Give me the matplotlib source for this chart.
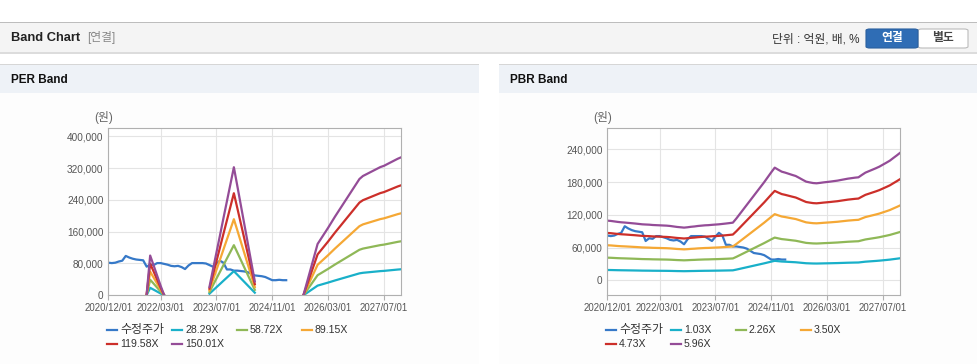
#Imports matplotlib, numpy and pandas to draw the band charts
import matplotlib.pyplot as plt
from matplotlib.patches import Rectangle, FancyBboxPatch
from matplotlib.lines import Line2D
from matplotlib.ticker import FuncFormatter
import numpy as np
import pandas as pd

plt.rcParams['font.family'] = ['Liberation Sans', 'Noto Sans CJK KR']

W, H = 978, 364

#Monthly categories of the x axis and the dates that carry a label
months = list(pd.date_range('2020-12-01', periods=85, freq='MS').strftime('%Y/%m/%d'))
tick_labels = ['2020/12/01', '2022/03/01', '2023/07/01', '2024/11/01', '2026/03/01', '2027/07/01']

#Adjusted stock price (수정주가), 2020/12 .. 2025/03
price = [82000, 81000, 82000, 85000, 87000, 99000, 95000, 92000, 90000, 89000,
         88000, 72000, 77000, 76000, 81000, 81000, 79000, 77000, 74000, 73000,
         74000, 71000, 66000, 75000, 81000, 81000, 81000, 81000, 80000, 76000,
         72000, 80000, 87000, 82000, 65000, 65000, 62000, 62000, 61000, 60000,
         58000, 54000, 50000, 49000, 48000, 46000, 42000, 38000, 38000, 39000,
         38000, 38000]

#EPS per month (None where the PER band has no value)
eps = [None] * 11 + [20, 667, 500, 330, 160, 5] + [None] * 12 + \
      [140, 430, 715, 1000, 1290, 1575, 1860, 2147, 1830, 1510, 1190, 870, 550, 234] + \
      [None] * 13 + \
      [15, 226, 437, 648, 860, 950, 1040, 1130, 1225, 1320, 1410, 1500, 1590, 1680,
       1770, 1860, 1950, 2000, 2030, 2060, 2090, 2120, 2150, 2170, 2200, 2230, 2260,
       2290, 2315]

#BPS per month
bps = [18340, 18250, 18100, 17950, 17830, 17750, 17650, 17550, 17450, 17330,
       17210, 17150, 17100, 17000, 16950, 16900, 16850, 16800, 16700, 16550,
       16400, 16300, 16190, 16300, 16450, 16550, 16700, 16800, 16900, 16950,
       17050, 17130, 17210, 17330, 17450, 17580, 17720, 19000, 20400, 21800,
       23200, 24600, 26000, 27400, 28800, 30200, 31700, 33200, 34630, 34000,
       33400, 33100, 32750, 32400, 32070, 31500, 30900, 30330, 30100, 29900,
       29820, 29950, 30100, 30220, 30350, 30500, 30640, 30850, 31050, 31250,
       31400, 31550, 31660, 32400, 33100, 33550, 34000, 34450, 34940, 35550,
       36150, 36780, 37600, 38400, 39240]

per_mult = [28.29, 58.72, 89.15, 119.58, 150.01]
per_names = ['28.29X', '58.72X', '89.15X', '119.58X', '150.01X']
pbr_mult = [1.03, 2.26, 3.50, 4.73, 5.96]
pbr_names = ['1.03X', '2.26X', '3.50X', '4.73X', '5.96X']

price_color = '#3679c8'
band_colors = ['#19b0c9', '#8fb857', '#f5a835', '#cc2f2a', '#944c97']

fig = plt.figure(figsize=(W / 100, H / 100), dpi=100)
fig.patch.set_facecolor('white')


#Pixel helpers (x from left, y from top)
def box(x0, y0, x1, y1, color):
    fig.add_artist(Rectangle((x0 / W, 1 - y1 / H), (x1 - x0) / W, (y1 - y0) / H,
                             transform=fig.transFigure, color=color, lw=0, zorder=0))


def txt(x, y, s, **kw):
    fig.text(x / W, 1 - y / H, s, va='center', **kw)


#Top header bar
box(0, 22, W, 23, '#bdbdbd')
box(0, 23, W, 52, '#f4f4f4')
box(0, 52, W, 54, '#dcdcdc')
txt(11, 38, 'Band Chart', fontsize=9.3, fontweight='bold', color='#222222')
txt(87, 38, '[연결]', fontsize=8.5, color='#888888')
txt(860, 39, '단위 : 억원, 배, %', fontsize=8.5, color='#333333', ha='right')
fig.add_artist(FancyBboxPatch((918 / W, 1 - 48 / H), 50 / W, 19 / H, boxstyle='round,pad=0,rounding_size=0.004',
                              transform=fig.transFigure, fc='white', ec='#bbbbbb', lw=0.8))
fig.add_artist(FancyBboxPatch((866 / W, 1 - 48 / H), 52 / W, 19 / H, boxstyle='round,pad=0,rounding_size=0.004',
                              transform=fig.transFigure, fc='#2f6db5', ec='#2a5f9e', lw=0.8))
txt(892, 38.5, '연결', fontsize=8.5, fontweight='bold', color='white', ha='center')
txt(943, 38.5, '별도', fontsize=8.5, fontweight='bold', color='#444444', ha='center')


def draw_panel(px, title, line_vals, band_base, mults, names, ylim, ystep):
    #Panel title bar and body
    box(px, 64, px + 479, 65, '#d6d6d6')
    box(px, 65, px + 479, 93, '#eef2f7')
    box(px, 93, px + 479, H, '#fdfdfd')
    txt(px + 11, 80, title, fontsize=8.5, fontweight='bold', color='#111111')

    left = px + 108.3
    ax = fig.add_axes([left / W, 1 - 295.3 / H, 293 / W, 167 / H])
    ax.set_facecolor('white')
    x = np.arange(len(months))
    ax.plot(np.arange(len(line_vals)), line_vals, color=price_color, lw=1.6)
    base = np.array([np.nan if v is None else v for v in band_base], dtype=float)
    for m, c in zip(mults, band_colors):
        ax.plot(x, base * m, color=c, lw=1.6)

    ax.set_xlim(0, len(months) - 1)
    ax.set_ylim(*ylim)
    ax.set_xticks([months.index(t) for t in tick_labels])
    ax.set_xticklabels(tick_labels)
    ax.set_yticks(np.arange(0, ylim[1], ystep))
    ax.yaxis.set_major_formatter(FuncFormatter(lambda v, p: f'{int(v):,}'))
    ax.grid(True, color='#e4e4e4', lw=0.8)
    ax.set_axisbelow(True)
    for s in ax.spines.values():
        s.set_color('#b0b0b0')
        s.set_linewidth(0.8)
    ax.tick_params(axis='y', length=0, pad=3.5, labelsize=7.2, labelcolor='#555555')
    ax.tick_params(axis='x', length=3.6, width=0.8, color='#b0b0b0', pad=2,
                   labelsize=6.9, labelcolor='#555555')
    txt(left - 5, 117, '(원)', fontsize=8.5, color='#666666', ha='center')

    #Legend, 4 entries per row
    labels = ['수정주가'] + names
    cols = [price_color] + band_colors
    for k, (lab, c) in enumerate(zip(labels, cols)):
        lx = left - 1.3 + 65 * (k % 4)
        ly = 330 + 14 * (k // 4)
        fig.add_artist(Line2D([lx / W, (lx + 10) / W], [1 - ly / H, 1 - ly / H],
                              transform=fig.transFigure, color=c, lw=1.6))
        txt(lx + 13, ly, lab, fontsize=8.6 if k == 0 else 7.6, color='#333333')
    return ax


draw_panel(0, 'PER Band', price, eps, per_mult, per_names, (0, 420000), 80000)
draw_panel(499, 'PBR Band', price, bps, pbr_mult, pbr_names, (-27500, 278500), 60000)

fig.savefig('out.png', dpi=100)
